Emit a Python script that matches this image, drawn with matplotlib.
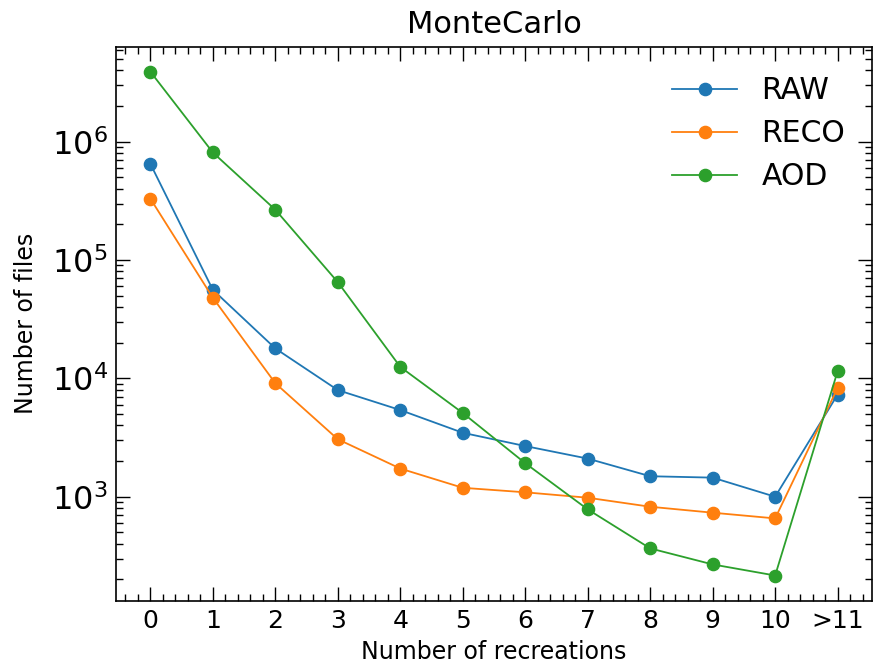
import matplotlib
matplotlib.use("Agg")
import matplotlib.pyplot as plt
from matplotlib.ticker import AutoMinorLocator

categories = ["0", "1", "2", "3", "4", "5", "6", "7", "8", "9", "10", ">11"]
raw = [6.5e5, 5.6e4, 1.79e4, 7.96e3, 5.4e3, 3.47e3, 2.68e3, 2.1e3, 1.49e3, 1.45e3, 1.0e3, 7.3e3]
reco = [3.3e5, 4.8e4, 9.1e3, 3.06e3, 1.73e3, 1.19e3, 1.09e3, 981, 823, 733, 656, 8.3e3]
aod = [3.9e6, 8.1e5, 2.66e5, 6.5e4, 1.25e4, 5.1e3, 1.92e3, 782, 366, 268, 216, 1.15e4]

x = list(range(len(categories)))

fig = plt.figure(figsize=(8.75, 6.65), dpi=100)
ax = fig.add_axes([116/875, 1 - 600.7/665, (872 - 116)/875, (600.7 - 46.5)/665])

ax.plot(x, raw, marker="o", color="#1f77b4", lw=1.3, ms=8.8, label="RAW")
ax.plot(x, reco, marker="o", color="#ff7f0e", lw=1.3, ms=8.8, label="RECO")
ax.plot(x, aod, marker="o", color="#2ca02c", lw=1.3, ms=8.8, label="AOD")

ax.set_yscale("log")
ax.set_xticks(x)
ax.set_xticklabels(categories)
ax.xaxis.set_minor_locator(AutoMinorLocator(5))
ax.tick_params(which="both", direction="in", top=True, right=True)
ax.tick_params(which="major", length=10, width=1)
ax.tick_params(which="minor", length=5, width=1)
ax.tick_params(axis="x", which="major", labelsize=18, pad=6)
ax.tick_params(axis="y", which="major", labelsize=23, pad=6)
for s in ax.spines.values():
    s.set_linewidth(1.2)

ax.set_title("MonteCarlo", fontsize=22, pad=10)
ax.set_xlabel("Number of recreations", fontsize=17, labelpad=5)
ax.set_ylabel("Number of files", fontsize=17, labelpad=10)
ax.legend(loc="upper right", bbox_to_anchor=(1.0, 0.995), frameon=False,
          fontsize=21.5, handlelength=2.2, labelspacing=0.47)

fig.savefig("out.png", dpi=100)
